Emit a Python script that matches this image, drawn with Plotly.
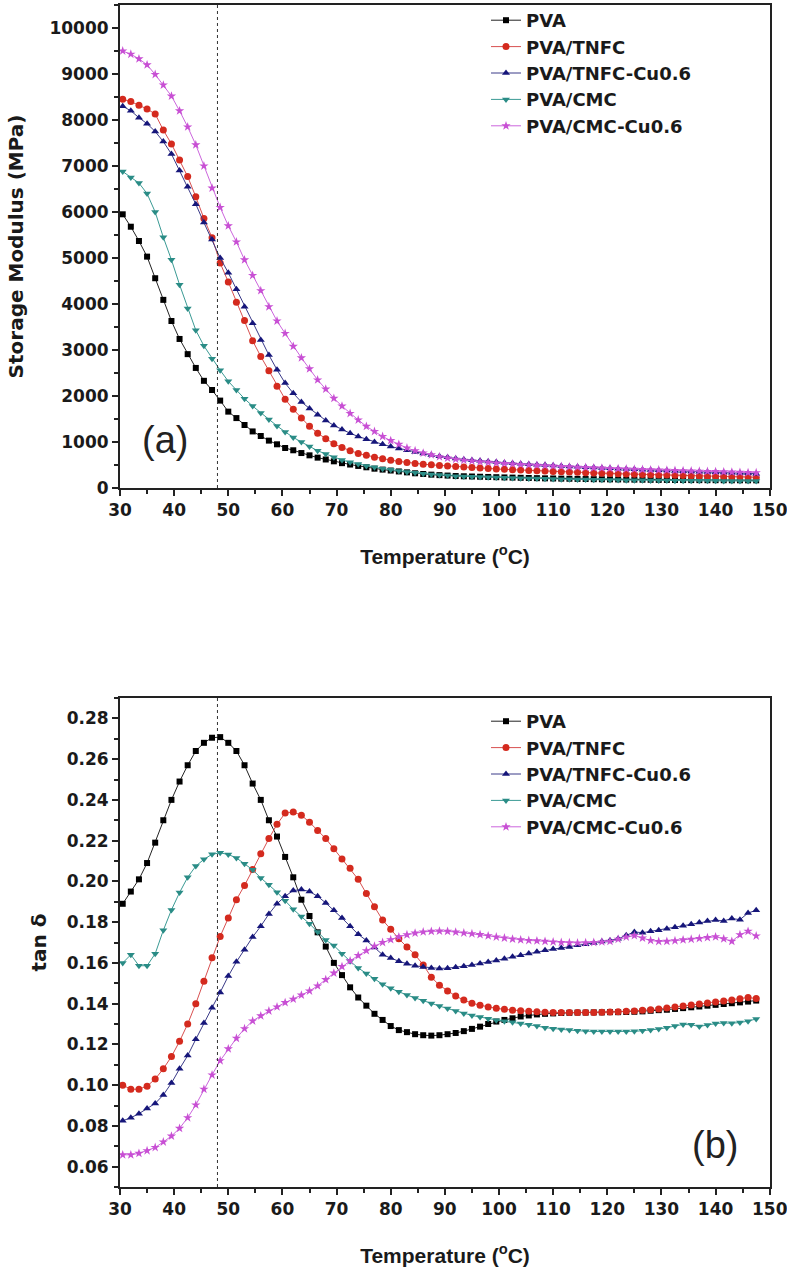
import plotly.graph_objects as go

temperature = [30.5, 32.0, 33.5, 35.0, 36.5, 38.0, 39.5, 41.0, 42.5, 44.0,
               45.5, 47.0, 48.5, 50.0, 51.5, 53.0, 54.5, 56.0, 57.5, 59.0,
               60.5, 62.0, 63.5, 65.0, 66.5, 68.0, 69.5, 71.0, 72.5, 74.0,
               75.5, 77.0, 78.5, 80.0, 81.5, 83.0, 84.5, 86.0, 87.5, 89.0,
               90.5, 92.0, 93.5, 95.0, 96.5, 98.0, 99.5, 101.0, 102.5, 104.0,
               105.5, 107.0, 108.5, 110.0, 111.5, 113.0, 114.5, 116.0, 117.5, 119.0,
               120.5, 122.0, 123.5, 125.0, 126.5, 128.0, 129.5, 131.0, 132.5, 134.0,
               135.5, 137.0, 138.5, 140.0, 141.5, 143.0, 144.5, 146.0, 147.5]

series_names = ["PVA", "PVA/TNFC", "PVA/TNFC-Cu0.6", "PVA/CMC", "PVA/CMC-Cu0.6"]

# Storage modulus (MPa)
mod_pva = [5950, 5680, 5370, 5030, 4560, 4090, 3630, 3240, 2910, 2610,
           2330, 2130, 1900, 1660, 1520, 1370, 1230, 1130, 1030, 950,
           870, 820, 760, 710, 660, 620, 580, 540, 510, 480,
           450, 420, 400, 380, 360, 340, 320, 305, 290, 280, 270,
           260, 255, 250, 245, 240, 235, 230, 226, 222, 218,
           214, 210, 207, 204, 201, 198, 195, 192, 190, 188,
           186, 184, 182, 180, 178, 176, 175, 174, 173, 172,
           171, 170, 170, 169, 168, 168, 167, 167]
mod_tnfc = [8450, 8400, 8320, 8240, 8130, 7780, 7480, 7130, 6770, 6330,
            5860, 5440, 4890, 4480, 4040, 3640, 3200, 2860, 2550, 2210,
            1930, 1710, 1520, 1340, 1190, 1070, 960, 880, 810, 750,
            710, 670, 635, 605, 578, 555, 535, 518, 503, 490, 478,
            466, 455, 444, 434, 424, 414, 405, 397, 389, 381,
            374, 367, 360, 353, 346, 340, 334, 328, 322, 316,
            310, 305, 300, 295, 290, 285, 280, 275, 270, 266,
            262, 258, 254, 250, 246, 242, 238, 234]
mod_tnfc_cu = [8300, 8200, 8050, 7920, 7750, 7530, 7260, 6900, 6550, 6170,
               5770, 5400, 5000, 4680, 4320, 3940, 3580, 3220, 2890, 2570,
               2280, 2060, 1870, 1730, 1590, 1470, 1360, 1270, 1190, 1120,
               1060, 1000, 950, 900, 860, 820, 780, 750, 720, 690, 670,
               640, 622, 605, 590, 576, 563, 551, 540, 529, 518,
               508, 498, 488, 479, 470, 461, 452, 444, 436, 428,
               420, 413, 406, 399, 392, 385, 378, 372, 366, 360,
               354, 348, 342, 336, 330, 324, 318, 312]
mod_cmc = [6880, 6750, 6630, 6400, 6000, 5450, 4960, 4420, 3900, 3430,
           3090, 2810, 2560, 2320, 2130, 1940, 1780, 1630, 1490, 1350,
           1220, 1100, 1000, 900, 810, 740, 670, 610, 560, 520,
           480, 450, 420, 395, 370, 350, 330, 310, 295, 280, 270,
           258, 252, 246, 240, 234, 228, 223, 218, 213, 208,
           204, 200, 196, 192, 189, 186, 183, 180, 177, 175,
           173, 171, 169, 167, 165, 163, 161, 160, 159, 158,
           157, 156, 155, 154, 153, 152, 151, 150]
mod_cmc_cu = [9500, 9430, 9330, 9200, 8990, 8760, 8520, 8200, 7850, 7460,
              7000, 6520, 6100, 5700, 5350, 4960, 4620, 4290, 3940, 3630,
              3360, 3080, 2830, 2590, 2350, 2150, 1950, 1780, 1620, 1480,
              1340, 1230, 1120, 1030, 950, 870, 810, 760, 720, 680, 650,
              625, 605, 588, 572, 558, 545, 533, 522, 512, 502,
              493, 484, 476, 468, 460, 453, 446, 439, 432, 426,
              420, 414, 408, 402, 396, 391, 386, 381, 376, 371,
              366, 361, 356, 351, 346, 341, 336, 331]

# tan delta
tan_pva = [0.189, 0.195, 0.201, 0.209, 0.219, 0.230, 0.240, 0.249, 0.257, 0.264,
           0.268, 0.2705, 0.2708, 0.268, 0.264, 0.257, 0.248, 0.240, 0.230, 0.222,
           0.212, 0.202, 0.191, 0.183, 0.175, 0.168, 0.160, 0.154, 0.148, 0.143,
           0.139, 0.135, 0.132, 0.129, 0.127, 0.126, 0.125, 0.1245, 0.1243, 0.1245,
           0.125, 0.1256, 0.1265, 0.1276, 0.1287, 0.130, 0.1312, 0.132, 0.1328, 0.1337,
           0.1342, 0.1347, 0.135, 0.1352, 0.1354, 0.1355, 0.1356, 0.1356, 0.1357, 0.1357,
           0.1358, 0.1358, 0.1359, 0.136, 0.1362, 0.1365, 0.1368, 0.137, 0.1374, 0.1378,
           0.1382, 0.1386, 0.139, 0.1394, 0.1398, 0.1402, 0.1406, 0.141, 0.1415]
tan_tnfc = [0.100, 0.098, 0.098, 0.0995, 0.103, 0.108, 0.114, 0.1215, 0.130, 0.140,
            0.151, 0.1625, 0.173, 0.182, 0.191, 0.198, 0.2058, 0.2135, 0.221, 0.228,
            0.2335, 0.234, 0.2325, 0.229, 0.225, 0.221, 0.216, 0.211, 0.2065, 0.201,
            0.194, 0.1875, 0.181, 0.1765, 0.1718, 0.1678, 0.164, 0.159, 0.153, 0.149,
            0.1462, 0.1437, 0.1418, 0.1402, 0.1392, 0.1383, 0.1377, 0.1372, 0.1368, 0.1365,
            0.1362, 0.136, 0.1358, 0.1357, 0.1356, 0.1356, 0.1356, 0.1356, 0.1357, 0.1358,
            0.1359, 0.136, 0.1362, 0.1364, 0.1367, 0.137, 0.1374, 0.1378, 0.1383, 0.1388,
            0.1393, 0.1398, 0.1403, 0.1408, 0.1413, 0.1418, 0.1424, 0.143, 0.1425]
tan_tnfc_cu = [0.0825, 0.084, 0.086, 0.0885, 0.091, 0.0952, 0.101, 0.108, 0.1145, 0.1225,
               0.1305, 0.138, 0.1455, 0.1535, 0.1605, 0.1665, 0.1727, 0.178, 0.184, 0.189,
               0.1927, 0.1955, 0.196, 0.195, 0.1927, 0.1894, 0.1858, 0.182, 0.178, 0.174,
               0.171, 0.1675, 0.164, 0.1624, 0.1608, 0.1596, 0.1586, 0.158, 0.1575, 0.1573,
               0.1574, 0.1578, 0.1584, 0.159, 0.1597, 0.1604, 0.1612, 0.162, 0.163, 0.1638,
               0.1646, 0.1654, 0.1662, 0.1668, 0.1673, 0.1678, 0.1686, 0.1692, 0.1698, 0.1705,
               0.171, 0.1718, 0.1735, 0.1752, 0.1748, 0.1755, 0.176, 0.1768, 0.1775, 0.1782,
               0.179, 0.1798, 0.1805, 0.181, 0.1806, 0.1818, 0.1812, 0.1845, 0.1858]
tan_cmc = [0.160, 0.164, 0.1586, 0.1586, 0.1645, 0.176, 0.186, 0.1945, 0.202, 0.2075,
           0.2108, 0.2133, 0.214, 0.2132, 0.2115, 0.2087, 0.2057, 0.2017, 0.1984, 0.1947,
           0.1905, 0.1863, 0.1827, 0.1792, 0.1752, 0.1712, 0.1685, 0.1645, 0.1608, 0.1575,
           0.1548, 0.1522, 0.1495, 0.1475, 0.1458, 0.1442, 0.1428, 0.1414, 0.1401, 0.1388,
           0.1376, 0.1364, 0.1352, 0.1342, 0.1334, 0.1326, 0.1318, 0.1313, 0.1308, 0.1303,
           0.1296, 0.129, 0.1282, 0.1277, 0.1273, 0.127, 0.1267, 0.1264, 0.1263, 0.1263,
           0.1263, 0.1263, 0.1263, 0.1264, 0.1267, 0.127, 0.1275, 0.1282, 0.129, 0.1298,
           0.1296, 0.1288, 0.1295, 0.1302, 0.1305, 0.1304, 0.1307, 0.1314, 0.1325]
tan_cmc_cu = [0.0658, 0.0658, 0.0665, 0.0678, 0.0694, 0.0721, 0.075, 0.0788, 0.084, 0.0903,
              0.098, 0.105, 0.112, 0.1178, 0.123, 0.1277, 0.1315, 0.134, 0.1364, 0.1384,
              0.1405, 0.1422, 0.1442, 0.1462, 0.1487, 0.1518, 0.155, 0.1582, 0.161, 0.1636,
              0.166, 0.1682, 0.17, 0.1714, 0.1728, 0.1738, 0.1746, 0.1752, 0.1755, 0.1756,
              0.1755, 0.1751, 0.1747, 0.1743, 0.1739, 0.1733, 0.1727, 0.1722, 0.1717, 0.1713,
              0.171, 0.1708, 0.1706, 0.1703, 0.17, 0.1699, 0.1698, 0.1699, 0.17, 0.1703,
              0.1706, 0.1716, 0.1727, 0.1734, 0.1722, 0.171, 0.1705, 0.1706, 0.1709, 0.1713,
              0.1716, 0.172, 0.1724, 0.1728, 0.1718, 0.1706, 0.1738, 0.1755, 0.1732]

x_ticks = [30, 40, 50, 60, 70, 80, 90, 100, 110, 120, 130, 140, 150]

styles = [
    dict(symbol="square", color="#000000", line="#222222", size=6),
    dict(symbol="circle", color="#d42a1e", line="#d85050", size=7),
    dict(symbol="triangle-up", color="#16167a", line="#3a3a88", size=7),
    dict(symbol="triangle-down", color="#2a8c86", line="#3a9a94", size=7),
    dict(symbol="star", color="#c84fd4", line="#cc66dd", size=7),
]

mod_series = [mod_pva, mod_tnfc, mod_tnfc_cu, mod_cmc, mod_cmc_cu]
tan_series = [tan_pva, tan_tnfc, tan_tnfc_cu, tan_cmc, tan_cmc_cu]

fig = go.Figure()
for name, vals, st in zip(series_names, mod_series, styles):
    fig.add_trace(go.Scatter(
        x=temperature, y=vals, name=name, mode="lines+markers",
        line=dict(color=st["line"], width=1),
        marker=dict(symbol=st["symbol"], color=st["color"], size=st["size"], line=dict(width=0)),
        xaxis="x", yaxis="y", legend="legend"))
for name, vals, st in zip(series_names, tan_series, styles):
    fig.add_trace(go.Scatter(
        x=temperature, y=vals, name=name, mode="lines+markers",
        line=dict(color=st["line"], width=1),
        marker=dict(symbol=st["symbol"], color=st["color"], size=st["size"], line=dict(width=0)),
        xaxis="x2", yaxis="y2", legend="legend2"))

W, H = 787, 1270
xdom = [120 / W, 770 / W]
ydom1 = [(H - 488) / H, (H - 5) / H]
ydom2 = [(H - 1187) / H, (H - 698) / H]

tickfont = dict(family="DejaVu Sans", size=17, color="#1a1a1a", weight="bold")
titlefont_x = dict(family="Liberation Sans", size=21, color="#1a1a1a", weight="bold")
titlefont_y = dict(family="DejaVu Sans", size=20, color="#1a1a1a", weight="bold")

common_x = dict(range=[30, 150.05], tickmode="array", tickvals=x_ticks,
                ticks="outside", ticklen=6, tickwidth=1.5, tickcolor="#222",
                showline=True, linecolor="#222", linewidth=2, mirror=True,
                showgrid=False, zeroline=False, tickfont=tickfont,
                automargin=False, ticklabeloverflow="allow",
                minor=dict(dtick=5, tick0=0, ticks="outside", ticklen=4, tickwidth=1.5, tickcolor="#222", showgrid=False),
                title=dict(text="Temperature (<sup>o</sup>C)", font=titlefont_x, standoff=30))
common_y = dict(ticks="outside", ticklen=6, tickwidth=1.5, tickcolor="#222",
                showline=True, linecolor="#222", linewidth=2, mirror=True,
                showgrid=False, zeroline=False, tickfont=tickfont,
                automargin=False)

fig.update_layout(
    width=W, height=H, margin=dict(l=0, r=0, t=0, b=0, autoexpand=False),
    paper_bgcolor="white", plot_bgcolor="white",
    xaxis=dict(domain=xdom, anchor="y", **common_x),
    yaxis=dict(domain=ydom1, anchor="x", range=[0, 10500], dtick=1000, tick0=0,
               tickformat="d",
               minor=dict(dtick=500, tick0=0, ticks="outside", ticklen=4, tickwidth=1.5, tickcolor="#222", showgrid=False),
               title=dict(text="Storage Modulus (MPa)", font=titlefont_y, standoff=20),
               **common_y),
    xaxis2=dict(domain=xdom, anchor="y2", **common_x),
    yaxis2=dict(domain=ydom2, anchor="x2", range=[0.05, 0.29], dtick=0.02, tick0=0,
                tickformat=".2f",
                minor=dict(dtick=0.01, tick0=0, ticks="outside", ticklen=4, tickwidth=1.5, tickcolor="#222", showgrid=False),
                title=dict(text="tan δ", font=titlefont_y, standoff=15),
                **common_y),
    legend=dict(x=486 / W, y=1 - 2 / H, xanchor="left", yanchor="top",
                bgcolor="rgba(0,0,0,0)", tracegroupgap=0,
                font=dict(family="DejaVu Sans", size=18, color="#1a1a1a", weight="bold")),
    legend2=dict(x=486 / W, y=1 - 703 / H, xanchor="left", yanchor="top",
                 bgcolor="rgba(0,0,0,0)", tracegroupgap=0,
                 font=dict(family="DejaVu Sans", size=18, color="#1a1a1a", weight="bold")),
    showlegend=True,
)

# dotted reference line at 48 C on both panels
fig.add_shape(type="line", xref="x", yref="y domain", x0=48, x1=48, y0=0, y1=1,
              line=dict(color="#333", width=1, dash="dot"))
fig.add_shape(type="line", xref="x2", yref="y2 domain", x0=48, x1=48, y0=0, y1=1,
              line=dict(color="#333", width=1, dash="dot"))

fig.add_annotation(x=38.3, y=1040, xref="x", yref="y", text="(a)", showarrow=False,
                   font=dict(family="Liberation Sans", size=38, color="#222"))
fig.add_annotation(x=139.8, y=0.0707, xref="x2", yref="y2", text="(b)", showarrow=False,
                   font=dict(family="Liberation Sans", size=38, color="#222"))

fig.write_html("out.html")
